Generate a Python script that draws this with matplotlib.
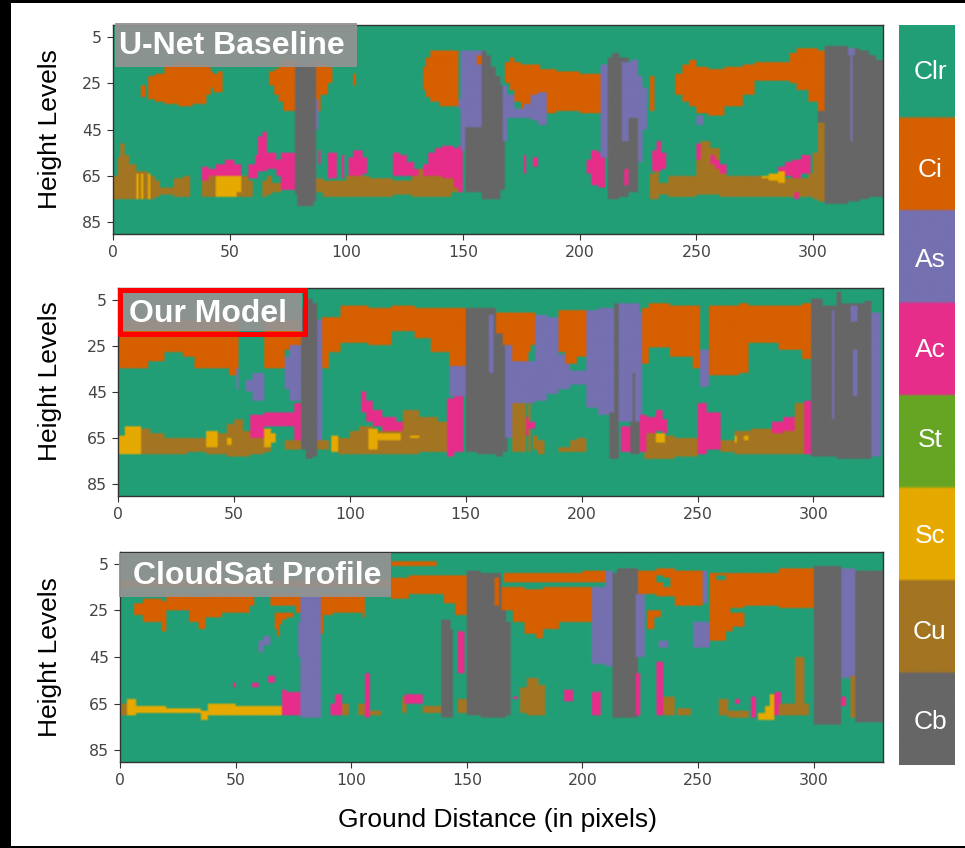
import numpy as np
import matplotlib
matplotlib.use("Agg")
import matplotlib.pyplot as plt
from matplotlib.colors import ListedColormap
from matplotlib.patches import Rectangle

W, H = 965, 848
N_LEVELS, N_COLS = 90, 330

class_names = ["Clr", "Ci", "As", "Ac", "St", "Sc", "Cu", "Cb"]
class_colors = ["#229e76", "#d65f00", "#7570b0", "#e72d8a",
                "#66a523", "#e5a900", "#a37522", "#666666"]
CLR, CI, AS, AC, ST, SC, CU, CB = range(8)

x_ticks = [0, 50, 100, 150, 200, 250, 300]
y_ticks = [5, 25, 45, 65, 85]

# cloud blobs: (class, x edges, tops, bottoms), painted in order
unet_blobs = [
    (CU, [0, 2, 3, 5, 7, 10, 15, 18, 20, 26, 30, 33], [65, 57, 51, 56, 60, 63, 65, 67, 70, 66, 65], [75, 75, 75, 75, 75, 75, 75, 74, 73, 74, 74]),
    (SC, [10, 11], [64], [75]),
    (SC, [12, 13], [64], [75]),
    (SC, [15, 16], [64], [75]),
    (CU, [38, 44, 58, 60], [65, 65, 67], [74, 74, 74]),
    (SC, [44, 52, 53, 55], [65, 65, 65], [74, 74, 72]),
    (CU, [64, 66, 68, 72], [67, 65, 68], [74, 73, 72]),
    (AC, [38, 41, 44, 48, 52, 55], [61, 62, 60, 58, 60], [67, 65, 65, 65, 65]),
    (AC, [58, 61, 62, 64, 66, 70, 72, 78], [60, 56, 48, 46, 55, 58, 55], [66, 66, 63, 63, 62, 65, 71]),
    (CB, [78, 79, 86, 87], [16, 16, 16], [73, 78, 76]),
    (CI, [12, 14, 15, 18, 22, 28, 34, 40, 42, 43, 45, 47], [26, 0, 22, 21, 17, 16, 17, 18, 20, 21, 20], [31, 0, 32, 33, 34, 35, 34, 30, 27, 29, 29]),
    (CI, [67, 69, 71, 73, 78], [20, 19, 17, 15], [26, 30, 33, 37]),
    (CI, [87, 89, 92, 94], [15, 17, 18], [37, 30, 25]),
    (CI, [103, 104], [21], [26]),
    (AS, [87, 88], [32], [45]),
    (AC, [88, 89], [54], [60]),
    (AC, [92, 96], [55], [66]),
    (AC, [98, 99], [56], [66]),
    (AC, [101, 103, 107, 109], [57, 54, 57], [66, 66, 64]),
    (AC, [120, 123, 126, 129, 131], [55, 56, 59, 62], [65, 65, 65, 65]),
    (CU, [87, 90, 100, 110, 120, 128, 131, 135, 145, 150], [66, 67, 65, 66, 67, 65, 62, 64, 65], [72, 74, 74, 74, 73, 74, 74, 74, 72]),
    (AC, [133, 135, 138, 141, 146, 148, 150], [60, 55, 53, 52, 53, 52], [65, 65, 65, 66, 70, 72]),
    (CI, [133, 134, 136, 140, 146, 148], [18, 14, 11, 11, 11], [28, 31, 33, 35, 35]),
    (AS, [148, 149, 152, 158], [32, 11, 11], [36, 54, 44]),
    (CI, [156, 158], [13], [17]),
    (CB, [151, 158], [44], [72]),
    (CB, [158, 160, 162, 164, 166, 168], [11, 13, 18, 22, 26], [75, 75, 75, 75, 71]),
    (AS, [167, 169, 172], [26, 30], [50, 40]),
    (CI, [168, 170, 172, 175, 183, 190, 200, 209], [16, 14, 16, 17, 19, 20, 21], [25, 28, 33, 36, 38, 37, 38]),
    (AS, [172, 176, 179, 182, 186], [36, 34, 30, 29], [40, 40, 41, 43]),
    (AC, [176, 177], [56], [64]),
    (AC, [180, 182], [57], [61]),
    (AC, [203, 205, 208, 211], [58, 54, 55], [64, 69, 70]),
    (AS, [209, 212], [17], [57]),
    (CB, [212, 214, 217, 221], [14, 12, 14], [75, 75, 74]),
    (AS, [218, 222, 225, 227, 229], [16, 15, 22, 27], [50, 50, 59, 45]),
    (AC, [219, 221], [62], [69]),
    (CB, [221, 225], [40], [72]),
    (CI, [230, 232], [22], [37]),
    (AC, [231, 233, 235, 237], [54, 50, 55], [63, 63, 62]),
    (CU, [230, 232, 234, 238, 245, 250], [64, 63, 68, 65, 65], [75, 75, 73, 74, 74]),
    (CU, [250, 252, 256, 260, 263, 275, 285, 292, 298, 300, 302, 305], [51, 50, 53, 60, 65, 65, 66, 66, 64, 55, 42], [73, 73, 73, 74, 74, 74, 74, 74, 74, 75, 76]),
    (AC, [250, 252], [51], [58]),
    (AC, [256, 258, 260, 263], [56, 58, 60], [60, 62, 64]),
    (AC, [285, 288, 291, 295, 299], [61, 59, 58, 56], [64, 65, 66, 64]),
    (AC, [292, 294], [72], [75]),
    (SC, [278, 281, 285, 288], [65, 64, 63], [66, 67, 68]),
    (CI, [241, 244, 247, 250, 255, 262, 270, 275, 280, 290, 293, 298, 302, 305], [21, 17, 15, 18, 19, 18, 17, 16, 16, 12, 10, 10, 11], [30, 33, 35, 38, 39, 35, 30, 24, 24, 25, 28, 33, 37]),
    (AS, [250, 253], [39], [43]),
    (CB, [302, 305, 315, 320, 324, 327, 330], [37, 9, 10, 11, 13, 15], [42, 77, 76, 75, 74, 74]),
    (AS, [315, 318], [10], [13]),
    (AS, [316, 317], [10], [50]),
]

model_blobs = [
    (CI, [0, 10, 13, 20, 28, 33, 48, 52], [14, 14, 14, 14, 14, 14, 14], [35, 35, 32, 28, 30, 35, 38]),
    (CI, [63, 72, 80], [14, 14], [35, 27]),
    (AS, [72, 74, 79], [30, 25], [44, 49]),
    (AS, [51, 52], [35], [44]),
    (AS, [55, 58, 63], [40, 37], [45, 49]),
    (CB, [79, 81, 84, 86], [9, 5, 7], [70, 74, 73]),
    (AS, [86, 88], [14], [66]),
    (CU, [86, 91], [66], [70]),
    (CI, [88, 91, 96, 108, 118, 128, 135, 143, 150], [13, 13, 8, 9, 8, 9, 9, 9], [35, 28, 24, 25, 19, 22, 28, 35]),
    (AS, [143, 150], [34], [47]),
    (AC, [142, 145, 149], [48, 47], [73, 71]),
    (CB, [150, 155, 163, 166, 168], [9, 9, 14, 22], [71, 72, 73, 71]),
    (AS, [160, 162], [12], [37]),
    (CI, [163, 166, 170, 173, 177, 178, 180], [11, 11, 11, 11, 11, 11], [20, 25, 33, 33, 28, 25]),
    (AS, [167, 170, 180, 185, 190, 195, 202, 207, 214], [25, 32, 12, 13, 29, 36, 10, 9], [65, 50, 49, 46, 44, 42, 52, 55]),
    (CI, [190, 193, 198, 202], [10, 10, 10], [28, 33, 30]),
    (CU, [170, 176], [50], [71]),
    (CU, [177, 178], [50], [71]),
    (AC, [176, 177, 180], [56, 58], [64, 61]),
    (CU, [179, 181, 184], [64, 66], [70, 72]),
    (CU, [190, 195, 198, 202], [69, 66, 65], [71, 71, 71]),
    (CB, [214, 216], [7], [54]),
    (CB, [212, 216], [54], [74]),
    (AS, [216, 225, 226], [7, 11], [58, 65]),
    (CB, [222, 223], [37], [60]),
    (CB, [221, 225], [58], [72]),
    (AC, [217, 221], [60], [71]),
    (CI, [226, 229, 238, 248, 251], [9, 7, 8, 8], [33, 26, 30, 35]),
    (AS, [251, 255], [27], [43]),
    (CU, [227, 232, 240, 250], [62, 64, 65], [74, 74, 73]),
    (AC, [225, 228, 232, 235, 237], [55, 56, 53, 57], [71, 63, 62, 63]),
    (SC, [232, 236], [63], [67]),
    (CI, [255, 268, 272, 285, 295, 299], [8, 7, 8, 8, 7], [38, 37, 24, 27, 31]),
    (AC, [250, 254, 260], [50, 54], [72, 70]),
    (CU, [260, 266, 273, 285, 299], [66, 62, 61, 62], [71, 72, 72, 72]),
    (SC, [266, 267], [64], [67]),
    (SC, [270, 272], [64], [66]),
    (AC, [282, 287, 292], [58, 56], [63, 62]),
    (CU, [292, 296], [50], [62]),
    (AC, [296, 299], [49], [72]),
    (CB, [299, 304, 310, 312, 322, 325], [5, 8, 2, 7, 6], [73, 73, 74, 74, 74]),
    (AS, [325, 329], [11], [73]),
    (AS, [308, 309], [10], [57]),
    (AS, [316, 319], [8], [15]),
    (AS, [317, 319], [27], [47]),
    # left half band
    (SC, [0, 3, 10], [64, 60], [72, 72]),
    (CU, [10, 14, 20, 30, 38], [61, 63, 65, 65], [72, 72, 72, 71]),
    (CU, [38, 43, 47, 50, 54, 57], [65, 63, 59, 57, 62], [72, 72, 73, 73, 73]),
    (CU, [57, 63, 66], [64, 66], [72, 71]),
    (SC, [38, 43], [62], [69]),
    (SC, [47, 49], [65], [68]),
    (AC, [57, 63, 72, 76, 79], [55, 54, 54, 50], [65, 60, 60, 67]),
    (CU, [72, 79], [66], [70]),
    (SC, [63, 66, 68], [61, 63], [69, 67]),
    (SC, [92, 95], [64], [71]),
    (CU, [95, 100, 104, 110, 120, 123, 130, 138, 142], [65, 62, 60, 62, 60, 53, 56, 58], [72, 72, 72, 72, 72, 72, 71, 71]),
    (AC, [105, 107, 110, 114, 120, 123], [45, 49, 53, 56, 58], [54, 58, 60, 62, 62]),
    (SC, [108, 112], [61], [70]),
    (SC, [112, 122], [63], [66]),
    (SC, [126, 130], [64], [65]),
]

cloudsat_blobs = [
    (CI, [0, 117], [12], [15]),
    (CI, [6, 10, 18, 20, 30, 34, 37, 44, 56, 58], [22, 20, 21, 18, 19, 19, 18, 18, 18], [27, 30, 34, 25, 30, 33, 28, 26, 23]),
    (CI, [65, 76, 78], [18, 18], [23, 26]),
    (CI, [67, 68, 69, 70, 72, 75], [26, 26, 26, 26, 26], [33, 36, 31, 29, 28]),
    (AS, [78, 87], [15], [71]),
    (AS, [77, 87], [30], [45]),
    (CI, [87, 88, 92, 105, 106], [18, 18, 18, 18], [35, 27, 26, 28]),
    (AS, [60, 62, 65], [38, 36], [43, 40]),
    (CI, [117, 125, 140, 145, 150], [11, 10, 10, 10], [20, 18, 22, 27]),
    (CI, [117, 137], [4], [6]),
    (SC, [3, 7, 20, 35, 38, 50, 70], [63, 66, 67, 68, 65, 66], [70, 69, 69, 72, 70, 70]),
    (CU, [0, 3], [65], [70]),
    (AC, [49, 50], [56], [58]),
    (AC, [57, 60], [56], [58]),
    (AC, [64, 67], [53], [56]),
    (AC, [70, 72, 78], [59, 60], [70, 70]),
    (AC, [91, 93, 96], [65, 61], [70, 70]),
    (CU, [96, 99], [65], [70]),
    (CU, [103, 106], [65], [70]),
    (AC, [106, 108], [52], [71]),
    (CU, [108, 113], [68], [70]),
    (CU, [122, 124], [62], [69]),
    (AC, [123, 131], [61], [65]),
    (CU, [131, 139], [66], [69]),
    (CB, [139, 143, 144], [29, 33], [71, 71]),
    (AC, [146, 149], [34], [52]),
    (CU, [146, 150], [63], [69]),
    (CB, [150, 156, 165, 167, 169], [8, 9, 22, 30], [70, 71, 71, 70]),
    (CI, [162, 164], [11], [23]),
    (CI, [166, 180, 200, 213], [9, 9, 8], [13, 13, 13]),
    (CI, [165, 170, 175, 180, 183, 190, 204], [15, 15, 16, 16, 15, 15], [25, 30, 35, 37, 33, 30]),
    (AC, [170, 172], [62], [63]),
    (CU, [173, 176, 181, 184], [58, 54, 57], [69, 70, 70]),
    (AC, [192, 196], [59], [64]),
    (AC, [204, 208], [60], [70]),
    (AS, [204, 210, 213], [15, 8], [48, 49]),
    (CB, [213, 215, 224], [9, 7], [71, 71]),
    (AS, [223, 227], [18], [45]),
    (AC, [223, 225], [52], [70]),
    (CI, [224, 232, 240, 252], [8, 7, 8], [18, 19, 23]),
    (CLR, [232, 235, 238], [10, 11], [13, 15]),
    (CI, [228, 231, 234], [25, 25], [33, 28]),
    (AS, [233, 237], [38], [41]),
    (AC, [232, 235], [47], [70]),
    (CU, [235, 240], [62], [70]),
    (CU, [241, 247], [67], [70]),
    (AS, [252, 254], [8], [22]),
    (AS, [248, 255], [30], [41]),
    (CI, [255, 262, 265, 270, 285, 300], [9, 9, 9, 9, 7], [38, 34, 32, 23, 24]),
    (CLR, [258, 262], [10], [12]),
    (CLR, [264, 270], [24], [26]),
    (CU, [259, 263], [63], [70]),
    (AC, [266, 268], [63], [65]),
    (CU, [263, 272], [68], [71]),
    (AC, [273, 275], [62], [71]),
    (SC, [276, 279, 281, 283], [69, 66, 61], [72, 72, 72]),
    (AC, [283, 286], [60], [70]),
    (CU, [285, 292, 296, 298], [65, 45, 65], [70, 70, 70]),
    (CB, [300, 312], [6], [74]),
    (AS, [312, 318], [7], [54]),
    (CU, [316, 319], [53], [71]),
    (AC, [312, 314], [62], [66]),
    (CB, [318, 330], [8], [73]),
]

# panel frames in reference pixels: left, top, right, bottom
panels = [
    (unet_blobs, (113, 25, 883, 234), "U-Net Baseline", (115, 23, 357, 67), 232, 129),
    (model_blobs, (118, 288, 883, 496), "Our Model", (123, 293, 302, 331), 208, 381),
    (cloudsat_blobs, (120, 552, 883, 762), "CloudSat Profile", (119, 553, 391, 597), 257, 657),
]
cbar_box = (899, 25, 955, 765)
cbar_label_y = [72, 170, 260, 350, 440, 536, 632, 722]


def to_grid(blobs):
    grid = np.full((N_LEVELS, N_COLS), CLR)
    for cls, xs, tops, bots in blobs:
        for i in range(len(xs) - 1):
            grid[tops[i]:bots[i], xs[i]:xs[i + 1]] = cls
    return grid


def frame(box):
    l, t, r, b = box
    return [l / W, 1 - b / H, (r - l) / W, (b - t) / H]


plt.rcParams["font.family"] = ["Liberation Sans", "DejaVu Sans"]
cmap = ListedColormap(class_colors)
fig = plt.figure(figsize=(W / 100, H / 100), dpi=100)

# black page edges of the screenshot
for l, t, r, b in [(0, 0, 11, H), (0, 0, W, 3), (0, 846, W, H)]:
    fig.add_artist(Rectangle((l / W, 1 - b / H), (r - l) / W, (b - t) / H,
                             transform=fig.transFigure, color="black", lw=0))

for blobs, box, label, lbox, cx, ylab_y in panels:
    ax = fig.add_axes(frame(box))
    ax.imshow(to_grid(blobs), cmap=cmap, vmin=-0.5, vmax=7.5, aspect="auto",
              interpolation="bilinear", interpolation_stage="rgba",
              extent=(0, N_COLS, N_LEVELS, 0))
    ax.set_xticks(x_ticks)
    ax.set_yticks(y_ticks)
    ax.tick_params(labelsize=11.3, labelcolor="#444444", color="#333333", length=4.5, labelfontfamily="DejaVu Sans")
    for s in ax.spines.values():
        s.set_color("#333333")
        s.set_linewidth(1)
    fig.text(50 / W, 1 - ylab_y / H, "Height Levels", fontsize=19, rotation=90, ha="center", va="center")

    l, t, r, b = lbox
    fig.add_artist(Rectangle((l / W, 1 - b / H), (r - l) / W, (b - t) / H, transform=fig.transFigure,
                             facecolor="#939393", alpha=0.93, lw=0, zorder=5))
    if label == "Our Model":
        fig.add_artist(Rectangle(((l - 3) / W, 1 - (b + 3) / H), (r - l + 6) / W, (b - t + 6) / H,
                                 transform=fig.transFigure, fill=False, edgecolor="#fe0000", lw=3.6, zorder=6))
    fig.text(cx / W, 1 - ((t + b) / 2 + 1.5) / H, label, color="white", fontsize=23, fontweight="bold",
             ha="center", va="center", zorder=7)

fig.text(498 / W, 1 - 820 / H, "Ground Distance (in pixels)", fontsize=19, ha="center", va="center")

cax = fig.add_axes(frame(cbar_box))
cax.imshow(np.repeat(np.arange(8), 30)[:, None], cmap=cmap, vmin=-0.5, vmax=7.5, aspect="auto",
           interpolation="bilinear", interpolation_stage="rgba")
cax.axis("off")
for name, py in zip(class_names, cbar_label_y):
    fig.text(930 / W, 1 - py / H, name, color="white", fontsize=19, ha="center", va="center", zorder=7)

fig.savefig("out.png", dpi=100)
